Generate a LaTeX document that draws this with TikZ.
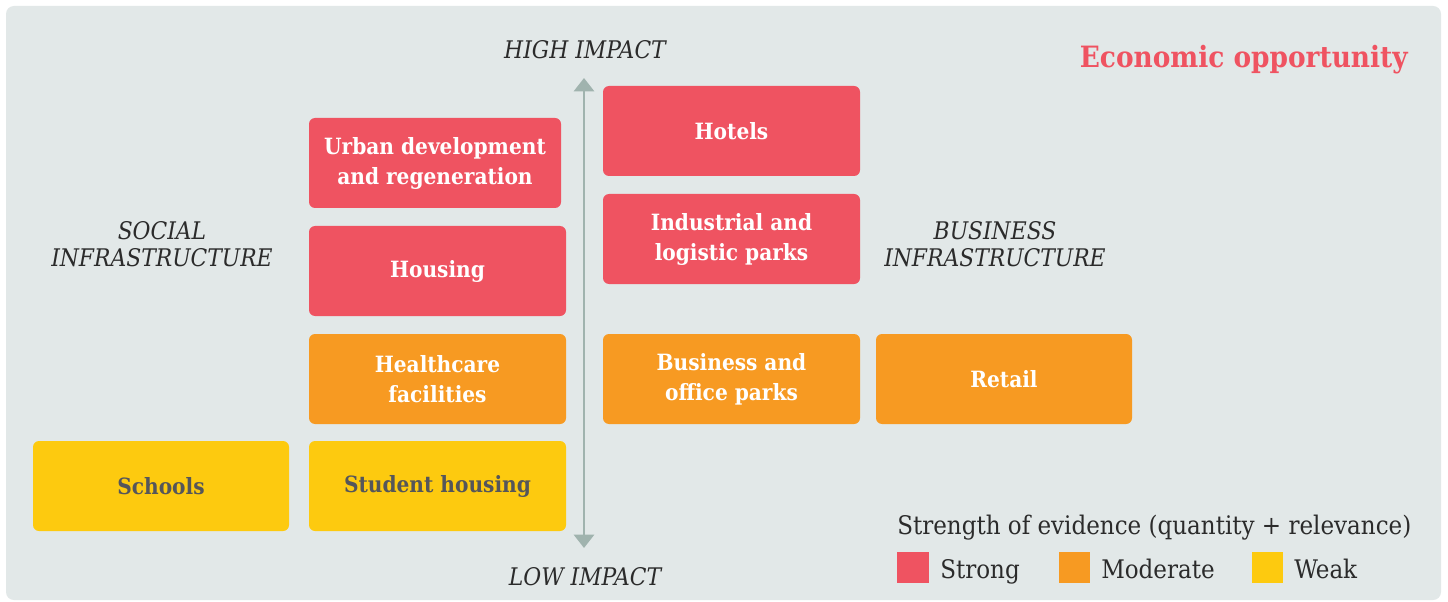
\documentclass[tikz,border=0pt]{standalone}
\usepackage{fontspec}
\setmainfont{DejaVu Serif Condensed}
\usetikzlibrary{arrows.meta}
\definecolor{bgpanel}{HTML}{E2E8E8}
\definecolor{strongc}{HTML}{EF5361}
\definecolor{moderatec}{HTML}{F79A22}
\definecolor{weakc}{HTML}{FDCA0F}
\definecolor{arrowc}{HTML}{A0B3AE}
\definecolor{textc}{HTML}{2B2B2B}
\definecolor{weaktext}{HTML}{55565A}
\tikzset{
  cell/.style={rounded corners=4.5pt, minimum height=67.5pt, align=center,
    inner sep=0pt, font=\fontsize{16.8}{22.5}\selectfont\bfseries, text=white},
  strongbox/.style={cell, fill=strongc},
  moderatebox/.style={cell, fill=moderatec},
  weakbox/.style={cell, fill=weakc, text=weaktext},
  axislabel/.style={font=\fontsize{18.2}{20.2}\selectfont\itshape, text=textc, align=center, inner sep=0pt},
  legendsq/.style={minimum width=23.5pt, minimum height=23.5pt, inner sep=0pt},
  legendtxt/.style={font=\fontsize{19.2}{22}\selectfont, text=textc, inner sep=0pt, anchor=base west}
}
\begin{document}
\begin{tikzpicture}[x=0.75pt,y=-0.75pt]
\useasboundingbox (0,0) rectangle (1448,602);
\fill[white] (0,0) rectangle (1448,602);
\fill[bgpanel, rounded corners=6pt] (6,6) rectangle (1441,600);

% boxes
\node[strongbox, minimum width=189pt] (urban) at (435,163) {Urban development\\and regeneration};
\node[strongbox, minimum width=192.75pt] (housing) at (437.5,271) {Housing};
\node[moderatebox, minimum width=192.75pt] (health) at (437.5,379) {Healthcare\\facilities};
\node[weakbox, minimum width=192.75pt] (student) at (437.5,486) {Student housing};
\node[weakbox, minimum width=192pt] (schools) at (161,486) {Schools};
\node[strongbox, minimum width=192.75pt] (hotels) at (731.5,131) {Hotels};
\node[strongbox, minimum width=192.75pt] (industrial) at (731.5,239) {Industrial and\\logistic parks};
\node[moderatebox, minimum width=192.75pt] (business) at (731.5,379) {Business and\\office parks};
\node[moderatebox, minimum width=192pt] (retail) at (1004,379) {Retail};

% axis
\coordinate (top) at (584,78);
\coordinate (bot) at (584,548);
\coordinate (mid) at (584,313);
\draw[arrowc, line width=2.2pt, -{Triangle[width=15pt,length=10pt]}] (mid) -- (top);
\draw[arrowc, line width=2.2pt, -{Triangle[width=15pt,length=10pt]}] (mid) -- (bot);
\node[axislabel] (high) at (585,50) {HIGH IMPACT};
\node[axislabel] (low) at (585,577) {LOW IMPACT};
\node[axislabel] (social) at (162,244) {SOCIAL\\INFRASTRUCTURE};
\node[axislabel] (busi) at (995,244) {BUSINESS\\INFRASTRUCTURE};

% title
\node[anchor=east, inner sep=0pt, text=strongc, font=\fontsize{22}{26}\selectfont\bfseries] (title) at (1408,60) {Economic opportunity};

% legend
\node[legendtxt] (legtitle) at (897,534) {Strength of evidence (quantity + relevance)};
\node[legendsq, fill=strongc] (sq1) at (913,567.5) {};
\node[legendtxt] (l1) at (940,578) {Strong};
\node[legendsq, fill=moderatec] (sq2) at (1074.5,567.5) {};
\node[legendtxt] (l2) at (1101,578) {Moderate};
\node[legendsq, fill=weakc] (sq3) at (1267.5,567.5) {};
\node[legendtxt] (l3) at (1294,578) {Weak};
\end{tikzpicture}
\end{document}
